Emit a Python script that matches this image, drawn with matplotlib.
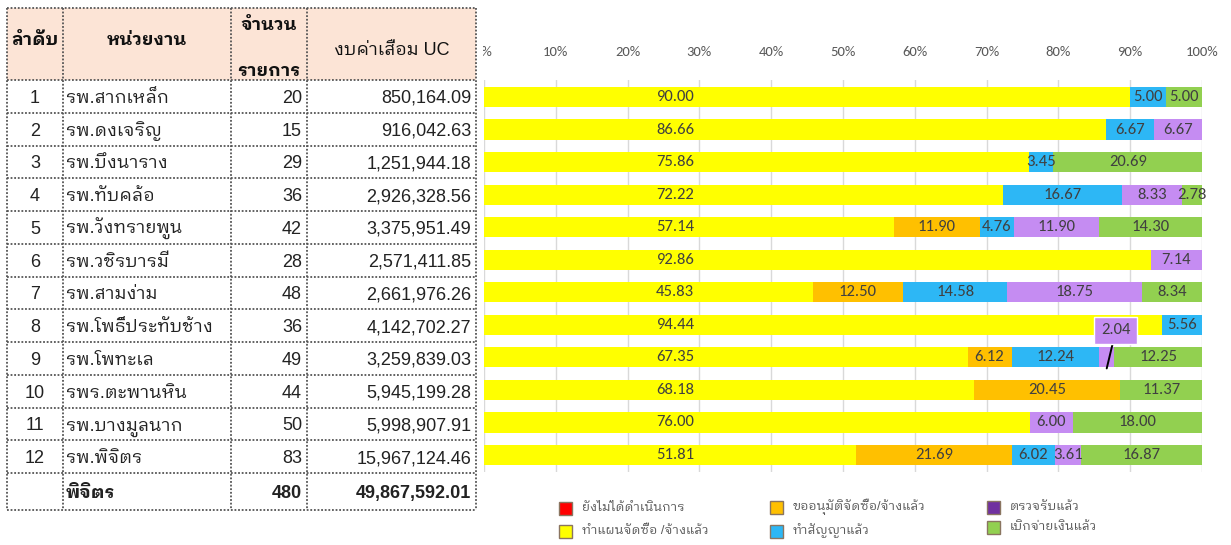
import matplotlib
matplotlib.use("Agg")
import matplotlib.pyplot as plt
import matplotlib.patches as mpatches

# ── Colours ────────────────────────────────────────────────────────────────
RED = "#FF0000"
YELLOW = "#FFFF00"
ORANGE = "#FFC000"
BLUE = "#2DB7F5"
PURPLE = "#C58CF2"
PURPLE_KEY = "#7030A0"
GREEN = "#92D050"
GRID = "#D9D9D9"
LABEL = "#404040"
HEADER_BG = "#FCE4D6"
BORDER = "#555555"

THAI = ["Liberation Sans", "IBM Plex Sans Thai Looped", "Noto Sans Thai Looped"]
NUM = ["Carlito", "Liberation Sans Narrow", "DejaVu Sans"]

plt.rcParams.update({"font.family": THAI, "axes.unicode_minus": False})

# ── Data ───────────────────────────────────────────────────────────────────
order = [str(i) for i in range(1, 13)]
units = [
    "รพ.สากเหล็ก", "รพ.ดงเจริญ", "รพ.บึงนาราง", "รพ.ทับคล้อ", "รพ.วังทรายพูน",
    "รพ.วชิรบารมี", "รพ.สามง่าม", "รพ.โพธิ์ประทับช้าง", "รพ.โพทะเล",
    "รพร.ตะพานหิน", "รพ.บางมูลนาก", "รพ.พิจิตร",
]
items = [20, 15, 29, 36, 42, 28, 48, 36, 49, 44, 50, 83]
budget = [
    "850,164.09", "916,042.63", "1,251,944.18", "2,926,328.56", "3,375,951.49",
    "2,571,411.85", "2,661,976.26", "4,142,702.27", "3,259,839.03",
    "5,945,199.28", "5,998,907.91", "15,967,124.46",
]
total_name = "พิจิตร"
total_items = "480"
total_budget = "49,867,592.01"

# stage shares (%) per hospital
not_started = [0] * 12
planned = [90.00, 86.66, 75.86, 72.22, 57.14, 92.86, 45.83, 94.44, 67.35, 68.18, 76.00, 51.81]
approved = [0, 0, 0, 0, 11.90, 0, 12.50, 0, 6.12, 20.45, 0, 21.69]
contracted = [5.00, 6.67, 3.45, 16.67, 4.76, 0, 14.58, 5.56, 12.24, 0, 0, 6.02]
inspected = [0, 6.67, 0, 8.33, 11.90, 7.14, 18.75, 0, 2.04, 0, 6.00, 3.61]
paid = [5.00, 0, 20.69, 2.78, 14.30, 0, 8.34, 0, 12.25, 11.37, 18.00, 16.87]

series = [
    ("ยังไม่ได้ดำเนินการ", not_started, RED),
    ("ทำแผนจัดซื้อ /จ้างแล้ว", planned, YELLOW),
    ("ขออนุมัติจัดซื้อ/จ้างแล้ว", approved, ORANGE),
    ("ทำสัญญาแล้ว", contracted, BLUE),
    ("ตรวจรับแล้ว", inspected, PURPLE),
    ("เบิกจ่ายเงินแล้ว", paid, GREEN),
]

W, H = 1231, 545
fig = plt.figure(figsize=(W / 100, H / 100), dpi=100)

# ── Stacked bar chart ──────────────────────────────────────────────────────
ax = fig.add_axes([484 / W, (H - 472) / H, 718 / W, 392 / H])
rows = list(range(len(planned)))
left = [0.0] * len(rows)
for name, vals, col in series:
    ax.barh(rows, vals, left=left, color=col, height=0.62, zorder=2)
    for r, (v, l0) in enumerate(zip(vals, left)):
        if v <= 0:
            continue
        # Excel put the planning labels at a fixed spot near the left
        x = 26.6 if vals is planned else l0 + v / 2
        if vals is inspected and r == 8:
            ax.annotate(f"{v:.2f}", xy=(l0 + v / 2, r + 0.34), xytext=(88.0, r - 0.83),
                        ha="center", va="center", fontsize=12, color=LABEL, family=NUM,
                        bbox=dict(boxstyle="square,pad=0.4", fc=PURPLE, ec="white", lw=1),
                        arrowprops=dict(arrowstyle="-", color="black", lw=1.4,
                                        shrinkA=0, shrinkB=0), zorder=5)
            continue
        ax.text(x, r, f"{v:.2f}", ha="center", va="center", fontsize=12,
                color=LABEL, family=NUM, zorder=4)
    left = [a + b for a, b in zip(left, vals)]

ax.set_xlim(0, 100)
ax.set_ylim(11.523, -0.523)
ax.set_xticks(range(0, 101, 10))
ax.set_xticklabels([f"{t}%" for t in range(0, 101, 10)], family=NUM, fontsize=10.5, color="#595959")
ax.xaxis.tick_top()
ax.tick_params(axis="x", length=0, pad=16)
ax.set_yticks([])
ax.grid(axis="x", color=GRID, lw=1)
ax.set_axisbelow(True)
for s in ax.spines.values():
    s.set_visible(False)

# ── Table + legend on a pixel canvas ───────────────────────────────────────
cv = fig.add_axes([0, 0, 1, 1], zorder=3)
cv.set_xlim(0, W)
cv.set_ylim(H, 0)
cv.axis("off")
cv.patch.set_alpha(0)

cols = [7, 63, 231, 307, 476]
head_top, head_bot = 8, 80
rh = 32.75
row_y = [head_bot + i * rh for i in range(14)]
row_y[-1] = 510

cv.add_patch(mpatches.Rectangle((476, 40), 7, 40, fc="white", ec="none"))
cv.add_patch(mpatches.Rectangle((cols[0], head_top), cols[-1] - cols[0], head_bot - head_top,
                                fc=HEADER_BG, ec="none"))
cv.add_patch(mpatches.Rectangle((cols[0], head_bot), cols[-1] - cols[0] + 5, row_y[-1] - head_bot,
                                fc="white", ec="none"))
for x in cols:
    cv.plot([x, x], [head_top, row_y[-1]], color=BORDER, lw=1.3, ls=(0, (1, 1)))
for y in [head_top] + row_y:
    cv.plot([cols[0], cols[-1]], [y, y], color=BORDER, lw=1.3, ls=(0, (1, 1)))

hkw = dict(fontsize=13, weight="bold", color="#111111", va="baseline", ha="center")
cv.text((cols[0] + cols[1]) / 2, 45, "ลำดับ", **hkw)
cv.text((cols[1] + cols[2]) / 2, 45, "หน่วยงาน", **hkw)
cv.text((cols[2] + cols[3]) / 2, 30, "จำนวน", **hkw)
cv.text((cols[2] + cols[3]) / 2, 76, "รายการ", **hkw)
cv.text((cols[3] + cols[4]) / 2, 55, "งบค่าเสื่อม UC", ha="center", va="baseline",
        fontsize=13, color="#111111")

bkw = dict(fontsize=13, color="#222222", va="baseline")
for i in range(12):
    yb = row_y[i] + rh / 2 + 6.5
    cv.text((cols[0] + cols[1]) / 2, yb, order[i], ha="center", **bkw)
    cv.text(cols[1] + 3, yb, units[i], ha="left", **bkw)
    cv.text(cols[3] - 5, yb, str(items[i]), ha="right", **bkw)
    cv.text(cols[4] - 5, yb, budget[i], ha="right", **bkw)
yb = (row_y[12] + row_y[13]) / 2 + 6.5
cv.text(cols[1] + 3, yb, total_name, ha="left", weight="bold", **bkw)
cv.text(cols[3] - 5, yb, total_items, ha="right", weight="bold", **bkw)
cv.text(cols[4] - 5, yb, total_budget, ha="right", weight="bold", **bkw)

# legend (Excel-style, three columns)
key_pos = [(565, 508), (565, 531), (776, 507), (776, 531), (993, 507), (993, 527)]
key_col = [RED, YELLOW, ORANGE, BLUE, PURPLE_KEY, GREEN]
for (name, _, _), (kx, ky), kc in zip(series, key_pos, key_col):
    cv.add_patch(mpatches.Rectangle((kx - 6.5, ky - 6.5), 13, 13, fc=kc, ec="#8a7560", lw=1))
    cv.text(kx + 17, ky, name, ha="left", va="center", fontsize=9.3, color="#595959")

fig.savefig("out.png", dpi=100)
